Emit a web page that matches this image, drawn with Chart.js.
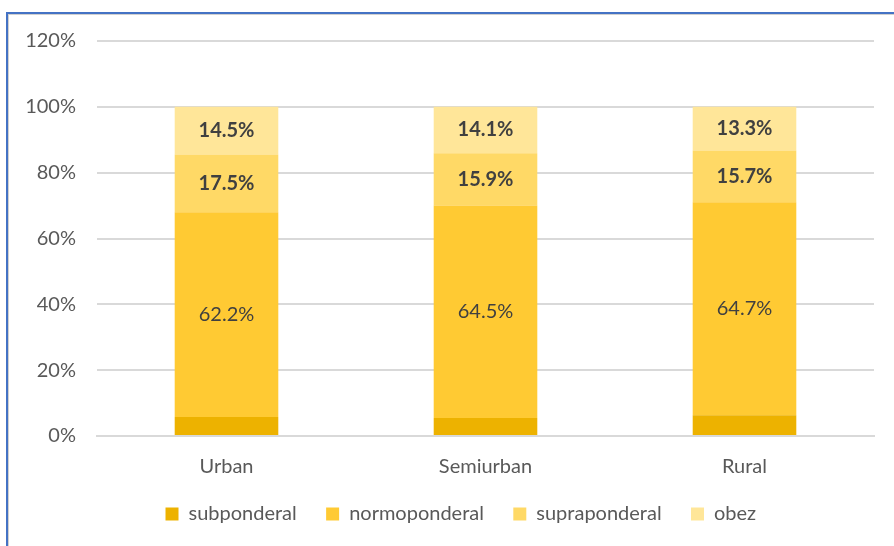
<!DOCTYPE html>
<html>
<head>
<meta charset="utf-8">
<script src="https://cdn.jsdelivr.net/npm/chart.js@4"></script>
<style>
  html, body { margin:0; padding:0; background:#fff; overflow:hidden; }
  #frame {
    position:absolute; left:6px; top:12px; width:900px; height:540px;
    border-left:2px solid #4472C4; border-top:2px solid #4472C4;
    box-shadow: 1px 1px 0 #d0d0d0 inset;
  }
  #wrap { position:absolute; left:8px; top:14px; width:921px; height:532px; }
</style>
</head>
<body>
<div id="frame"></div>
<div id="wrap"><canvas id="chart"></canvas></div>
<script>
const categories = ['Urban', 'Semiurban', 'Rural'];
const subponderal = [5.8, 5.5, 6.3];
const normoponderal = [62.2, 64.5, 64.7];
const supraponderal = [17.5, 15.9, 15.7];
const obez = [14.5, 14.1, 13.3];
const seriesNames = ['subponderal', 'normoponderal', 'supraponderal', 'obez'];
const colors = ['#EDB200', '#FFCA33', '#FFD966', '#FFE699'];

const fontFam = 'Lato, "Open Sans", sans-serif';

// etichete pe segmente (fara subponderal)
const segLabels = {
  id: 'segLabels',
  afterDatasetsDraw(chart){
    const ctx = chart.ctx;
    chart.data.datasets.forEach((ds, i) => {
      if(i === 0) return;
      const meta = chart.getDatasetMeta(i);
      meta.data.forEach((bar, j) => {
        const v = ds.data[j];
        const y = (bar.y + bar.base) / 2;
        ctx.save();
        ctx.font = (i === 1 ? '' : 'bold ') + '20px ' + fontFam;
        ctx.fillStyle = '#404040';
        ctx.textAlign = 'center';
        ctx.textBaseline = 'middle';
        ctx.fillText(v.toFixed(1) + '%', bar.x, y);
        ctx.restore();
      });
    });
  }
};

const seriesData = [subponderal, normoponderal, supraponderal, obez];

new Chart(document.getElementById('chart'), {
  type: 'bar',
  data: {
    labels: categories,
    datasets: seriesData.map((d, i) => ({
      label: seriesNames[i],
      data: d,
      backgroundColor: colors[i],
      borderWidth: 0,
      categoryPercentage: 1,
      barPercentage: 0.4
    }))
  },
  options: {
    responsive: true,
    maintainAspectRatio: false,
    animation: false,
    layout: { padding: { left: 0, right: 0, top: 27, bottom: 12 } },
    plugins: {
      tooltip: { enabled: false },
      legend: {
        position: 'bottom',
        labels: {
          boxWidth: 13, boxHeight: 13, padding: 14,
          color: '#595959',
          font: { family: fontFam, size: 20 },
          generateLabels(chart){
            const items = Chart.defaults.plugins.legend.labels.generateLabels(chart);
            items.forEach(it => { it.text = it.text + '   '; });
            return items;
          }
        }
      }
    },
    scales: {
      x: {
        stacked: true,
        grid: { display: false },
        border: { color: '#d9d9d9', width: 2 },
        ticks: { color: '#595959', font: { family: fontFam, size: 20 }, padding: 11 }
      },
      y: {
        stacked: true,
        min: 0, max: 120,
        afterFit(s){ s.width = 89; },
        grid: { color: '#d9d9d9', lineWidth: 2, drawTicks: true, tickLength: 16, tickColor: 'rgba(0,0,0,0)' },
        border: { display: false },
        ticks: {
          stepSize: 20, padding: 5,
          color: '#595959',
          font: { family: fontFam, size: 20 },
          callback: v => v + '%'
        }
      },
      // spatiu gol in dreapta
      yRight: {
        position: 'right',
        afterFit(s){ s.width = 55; },
        grid: { display: false },
        border: { display: false },
        ticks: { display: false }
      }
    }
  },
  plugins: [segLabels]
});
</script>
</body>
</html>
